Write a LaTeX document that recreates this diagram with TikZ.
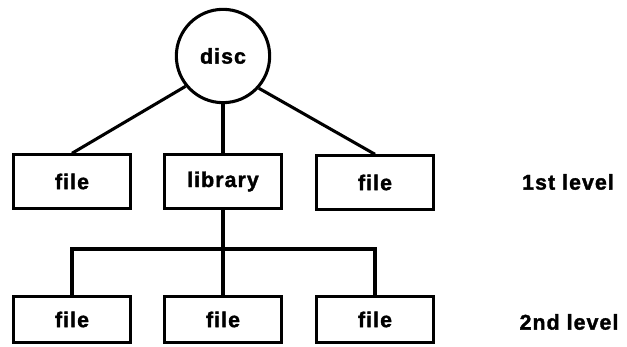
\documentclass[tikz,border=0pt]{standalone}
\usepackage{fontspec}
\setmainfont{Liberation Sans}[LetterSpace=5,BoldFeatures={FakeBold=1.6}]
\begin{document}
\begin{tikzpicture}[x=0.75pt,y=-0.75pt,
  line width=2.3pt,
  txt/.style={font=\fontsize{16}{19}\selectfont\bfseries},
  filebox/.style={draw, txt, rectangle, minimum width=88pt, minimum height=40pt, inner sep=0pt},
  lowbox/.style={filebox, minimum height=35pt},
  discnode/.style={draw, txt, circle, minimum size=70pt, inner sep=0pt},
  levellabel/.style={txt, anchor=center}]
  \useasboundingbox (0,0) rectangle (627,346);

  % root
  \node[discnode] (disc) at (223,56) {disc};

  % first level
  \node[filebox] (f1) at (72,181.5) {file};
  \node[filebox] (lib) at (223,181.5) {library};
  \node[filebox] (f3) at (375,182.5) {file};

  % second level
  \node[lowbox] (g1) at (72,319.5) {file};
  \node[lowbox] (g2) at (223,319.5) {file};
  \node[lowbox] (g3) at (375,319.5) {file};

  % level labels
  \node[levellabel] (l1) at (568,182) {1st level};
  \node[levellabel] (l2) at (569,322) {2nd level};

  % connectors
  \coordinate (bus) at (223,249);
  \draw (disc.219) -- (f1.north);
  \draw (disc.south) -- (lib.north);
  \draw (disc.318) -- (f3.north);
  \draw (lib.south) -- (g2.north);
  \draw (g1.north) |- (bus) -| (g3.north);
\end{tikzpicture}
\end{document}
